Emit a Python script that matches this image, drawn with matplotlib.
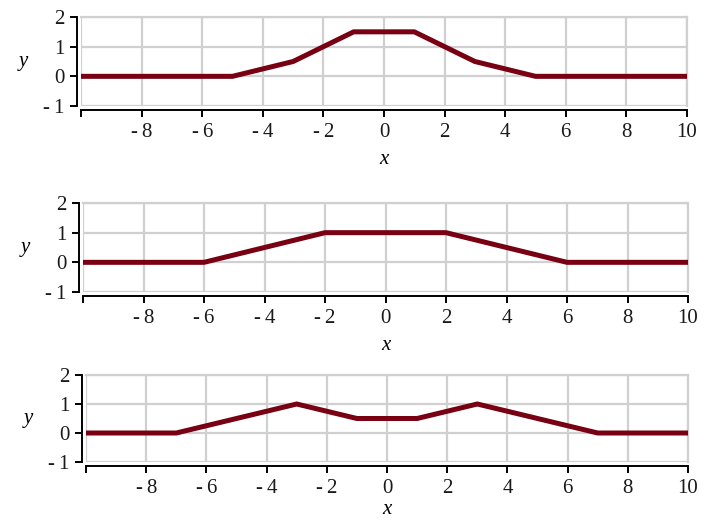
import matplotlib
matplotlib.use("Agg")
import matplotlib.pyplot as plt
import numpy as np

# breakpoints of the three piecewise linear curves
x1 = [-10, -5, -3, -1, 1, 3, 5, 10]
y1 = [0, 0, 0.5, 1.5, 1.5, 0.5, 0, 0]

x2 = [-10, -6, -2, 2, 6, 10]
y2 = [0, 0, 1, 1, 0, 0]

x3 = [-10, -7, -3, -1, 1, 3, 7, 10]
y3 = [0, 0, 1, 0.5, 0.5, 1, 0, 0]

xticks = list(range(-10, 11, 2))
yticks = [-1, 0, 1, 2]


def fmt(v):
    # Maple style: short hyphen followed by a small gap
    return "-\u2009" + str(-v) if v < 0 else str(v)


plt.rcParams['font.family'] = ['Liberation Serif', 'DejaVu Serif']

fig = plt.figure(figsize=(7.04, 5.21), dpi=100)

W, H = 704.0, 521.0
# (left px, right px, top px, bottom px) of each data area
boxes = [(81, 687, 17, 106), (83, 688, 203, 292), (86, 688, 375, 462)]
curves = [(x1, y1), (x2, y2), (x3, y3)]
pads = [6, 6, 2]

for (l, r, t, b), (xs, ys), lp in zip(boxes, curves, pads):
    ax = fig.add_axes([l / W, 1 - b / H, (r - l) / W, (b - t) / H])
    ax.plot(xs, ys, color='#780012', lw=3.6, solid_joinstyle='miter', zorder=3)
    ax.set_xlim(-10, 10)
    ax.set_ylim(-1, 2)
    ax.set_xticks(xticks)
    ax.set_xticklabels([""] + [fmt(v) for v in xticks[1:]])
    ax.set_yticks(yticks)
    ax.set_yticklabels([fmt(v) for v in yticks])
    ax.grid(True, color='#d0d0d0', lw=1.6)
    ax.set_axisbelow(True)
    for side in ['top', 'right']:
        ax.spines[side].set_color('#d0d0d0')
        ax.spines[side].set_linewidth(1.6)
    for side in ['left', 'bottom']:
        ax.spines[side].set_position(('outward', 3))
        ax.spines[side].set_linewidth(1.4)
        ax.spines[side].set_color('black')
    ax.tick_params(direction='out', length=5, width=1.4, labelsize=15, pad=4,
                   labelcolor='#1a1a1a')
    ax.set_xlabel('x', style='italic', fontsize=15, labelpad=lp)
    ax.set_ylabel('y', style='italic', fontsize=15, rotation=0, labelpad=14, va='center')

fig.savefig('out.png', dpi=100)
